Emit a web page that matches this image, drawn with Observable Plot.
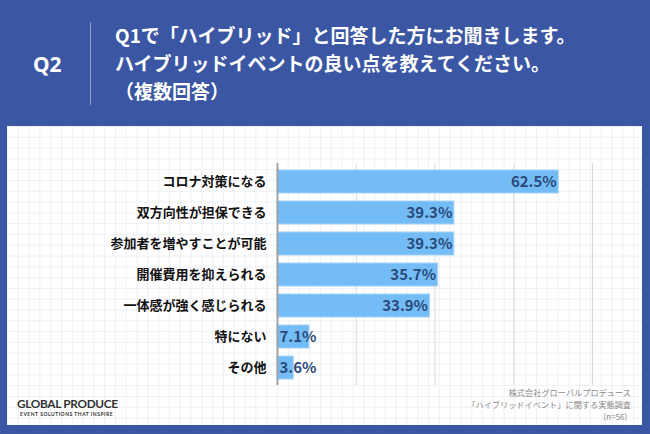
<!DOCTYPE html>
<html>
<head>
<meta charset="utf-8">
<script src="https://cdn.jsdelivr.net/npm/d3@7"></script>
<script src="https://cdn.jsdelivr.net/npm/@observablehq/plot@0.6"></script>
<style>
  html, body { margin: 0; padding: 0; }
  body {
    width: 650px; height: 434px; overflow: hidden; position: relative;
    background: #3b56a3;
    font-family: "Noto Sans CJK JP", "Noto Sans", sans-serif;
  }
  #q { position: absolute; left: 33px; top: 50px; color: #fff; font-weight: 700; font-size: 21px; font-family: "Noto Sans", "Noto Sans CJK JP", sans-serif; line-height: 28px; }
  #vline { position: absolute; left: 90px; top: 22px; width: 1px; height: 83px; background: #8d9dc9; }
  #title { position: absolute; left: 115px; top: 21px; color: #fff; font-weight: 700; font-size: 19px; line-height: 28px; white-space: nowrap; }
  #panel {
    position: absolute; left: 7px; top: 126px; width: 635px; height: 299px;
    background-color: #fff;
    background-image:
      linear-gradient(to right, #eef0f3 1px, transparent 1px),
      linear-gradient(to bottom, #eef0f3 1px, transparent 1px);
    background-size: 10.8px 10.8px;
  }
  #chart { position: absolute; left: 0; top: 0; }
  #logo { position: absolute; left: 10px; top: 271px; color: #333; }
  #logo .a { font-family: "Lato", sans-serif; font-weight: 700; font-size: 11.8px; letter-spacing: -0.3px; line-height: 13px; }
  #logo .b { font-family: "Lato", sans-serif; font-weight: 700; font-size: 5px; letter-spacing: 0.5px; line-height: 8px; padding-left: 3px; }
  #source { position: absolute; right: 11px; top: 260px; text-align: right; color: #8a8a8a; font-size: 8.2px; line-height: 12px; }
</style>
</head>
<body>
<div id="q">Q2</div>
<div id="vline"></div>
<div id="title">Q1で「ハイブリッド」と回答した方にお聞きします。<br>ハイブリッドイベントの良い点を教えてください。<br>（複数回答）</div>
<div id="panel">
  <div id="chart"></div>
  <div id="logo"><div class="a">GLOBAL PRODUCE</div><div class="b">EVENT SOLUTIONS THAT INSPIRE</div></div>
  <div id="source">株式会社グローバルプロデュース<br>「ハイブリッドイベント」に関する実態調査<br>(n=56)&nbsp;&nbsp;</div>
</div>
<script>
const categories = ["コロナ対策になる", "双方向性が担保できる", "参加者を増やすことが可能", "開催費用を抑えられる", "一体感が強く感じられる", "特にない", "その他"];
const values = [62.5, 39.3, 39.3, 35.7, 33.9, 7.1, 3.6];
const gridTicks = [17.5, 35, 52.5, 70];

const rows = categories.map((c, i) => ({label: c, value: values[i]}));
const big = rows.filter(d => d.value >= 10);
const small = rows.filter(d => d.value < 10);

const valueFont = {fontSize: 15, fontWeight: 700, fill: "#2b4a78", fontFamily: "'Noto Sans CJK JP', 'Noto Sans', sans-serif"};

const chart = Plot.plot({
  width: 635,
  height: 299,
  marginLeft: 270,
  marginRight: 50,
  marginTop: 37,
  marginBottom: 40,
  x: {domain: [0, 70], axis: null},
  y: {domain: categories, paddingInner: 0.27, paddingOuter: 0.18, axis: null},
  style: {background: "transparent", fontFamily: "'Noto Sans CJK JP', sans-serif", overflow: "visible"},
  marks: [
    Plot.ruleX(gridTicks, {stroke: "#d8d8d8", strokeWidth: 1}),
    Plot.barX(rows, {x: "value", y: "label", fill: "#73bcf6", stroke: "#a6d4f8", strokeWidth: 1}),
    Plot.ruleX([0], {stroke: "#a3a3a3", strokeWidth: 2}),
    Plot.text(big, {x: "value", y: "label", text: d => d.value.toFixed(1) + "%", textAnchor: "end", dx: -2, ...valueFont}),
    Plot.text(small, {x: 0, y: "label", text: d => d.value.toFixed(1) + "%", textAnchor: "start", dx: 2, ...valueFont}),
    Plot.axisY({tickSize: 0, tickPadding: 11, fontSize: 13, fontWeight: 700, fill: "#111", label: null})
  ]
});
document.getElementById("chart").appendChild(chart);
</script>
</body>
</html>
